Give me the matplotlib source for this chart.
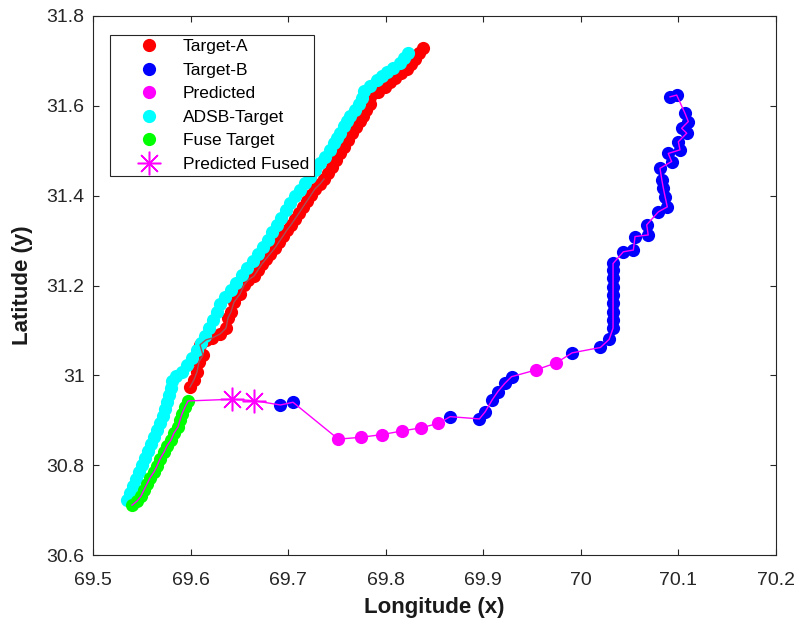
import matplotlib
matplotlib.use('Agg')
import matplotlib.pyplot as plt
from matplotlib.ticker import FuncFormatter

plt.rcParams['font.family'] = ['Liberation Sans', 'DejaVu Sans']

# Target-A track (red)
red_lon = [69.5994, 69.6035, 69.6066, 69.6086, 69.6127, 69.6097, 69.6158, 69.6220, 69.6302, 69.6363,
           69.6384, 69.6414, 69.6445, 69.6507, 69.6548, 69.6589, 69.6650, 69.6691, 69.6732, 69.6773,
           69.6814, 69.6865, 69.6906, 69.6947, 69.6988, 69.7029, 69.7070, 69.7111, 69.7152, 69.7193,
           69.7234, 69.7275, 69.7327, 69.7368, 69.7409, 69.7450, 69.7491, 69.7532, 69.7573, 69.7614,
           69.7655, 69.7696, 69.7737, 69.7767, 69.7798, 69.7839, 69.7839, 69.7921, 69.7993, 69.8044,
           69.8095, 69.8157, 69.8218, 69.8259, 69.8300, 69.8341, 69.8382]
red_lat = [30.974, 30.990, 31.0075, 31.030, 31.045, 31.068, 31.079, 31.083, 31.092, 31.105,
           31.128, 31.141, 31.163, 31.181, 31.201, 31.212, 31.221, 31.2345, 31.248, 31.259,
           31.270, 31.2835, 31.297, 31.310, 31.3236, 31.335, 31.348, 31.361, 31.375, 31.388,
           31.4015, 31.415, 31.426, 31.437, 31.4505, 31.464, 31.479, 31.495, 31.508, 31.524,
           31.5395, 31.553, 31.566, 31.577, 31.591, 31.604, 31.620, 31.631, 31.642, 31.653,
           31.662, 31.673, 31.682, 31.693, 31.704, 31.718, 31.729]

# ADSB track (cyan)
adsb_lon = [69.5348, 69.5379, 69.5410, 69.5441, 69.5471, 69.5502, 69.5533, 69.5564, 69.5594, 69.5625,
            69.5656, 69.5687, 69.5717, 69.5738, 69.5758, 69.5779, 69.5799, 69.5810, 69.5851, 69.5912,
            69.5963, 69.6015, 69.6066, 69.6107, 69.6148, 69.6189, 69.6230, 69.6271, 69.6302, 69.6353,
            69.6414, 69.6466, 69.6527, 69.6578, 69.6640, 69.6691, 69.6742, 69.6794, 69.6835, 69.6886,
            69.6927, 69.6978, 69.7019, 69.7070, 69.7122, 69.7173, 69.7224, 69.7275, 69.7327, 69.7378,
            69.7429, 69.7470, 69.7501, 69.7532, 69.7573, 69.7603, 69.7634, 69.7685, 69.7726, 69.7757,
            69.7778, 69.7839, 69.7911, 69.7962, 69.8013, 69.8075, 69.8147, 69.8188, 69.8229]
adsb_lat = [30.7225, 30.738, 30.754, 30.769, 30.785, 30.800, 30.816, 30.832, 30.847, 30.863,
            30.878, 30.894, 30.9095, 30.925, 30.941, 30.956, 30.972, 30.987, 30.9986, 31.0075,
            31.023, 31.039, 31.056, 31.072, 31.088, 31.105, 31.123, 31.141, 31.159, 31.174,
            31.190, 31.2056, 31.2234, 31.239, 31.2546, 31.270, 31.2857, 31.3013, 31.319, 31.3347,
            31.3503, 31.368, 31.3837, 31.399, 31.4126, 31.428, 31.4416, 31.457, 31.4727, 31.486,
            31.5017, 31.517, 31.528, 31.5395, 31.555, 31.566, 31.577, 31.591, 31.604, 31.617,
            31.633, 31.644, 31.6575, 31.666, 31.675, 31.684, 31.695, 31.7065, 31.718]

# fused track (green)
fuse_lon = [69.5400, 69.5451, 69.5492, 69.5523, 69.5553, 69.5584, 69.5625, 69.5656, 69.5687,
            69.5728, 69.5758, 69.5799, 69.5830, 69.5871, 69.5892, 69.5912, 69.5943, 69.5974]
fuse_lat = [30.711, 30.720, 30.731, 30.745, 30.758, 30.7715, 30.785, 30.798, 30.814,
            30.829, 30.843, 30.856, 30.8717, 30.885, 30.9006, 30.914, 30.9296, 30.943]

# Target-B track (blue)
b_lon = [69.692, 69.705, 69.866, 69.896, 69.902, 69.909, 69.915, 69.922, 69.929, 69.991,
         70.020, 70.029, 70.033, 70.033, 70.033, 70.033, 70.033, 70.033, 70.033, 70.033,
         70.033, 70.0435, 70.0538, 70.0555, 70.069, 70.0675, 70.0794, 70.0886, 70.0863, 70.0846,
         70.083, 70.0811, 70.093, 70.0896, 70.1016, 70.0999, 70.1085, 70.1033, 70.1101, 70.1068,
         70.0982, 70.0914]
b_lat = [30.934, 30.940, 30.908, 30.903, 30.919, 30.945, 30.964, 30.982, 30.997, 31.050,
         31.062, 31.080, 31.105, 31.123, 31.142, 31.160, 31.179, 31.197, 31.216, 31.235,
         31.249, 31.275, 31.279, 31.309, 31.3125, 31.335, 31.364, 31.375, 31.398, 31.416,
         31.435, 31.461, 31.476, 31.494, 31.502, 31.520, 31.539, 31.550, 31.565, 31.583,
         31.624, 31.620]

# predicted positions (gaps in Target-B)
pred_lon = [69.7514, 69.7744, 69.7959, 69.8164, 69.8359, 69.8539, 69.954, 69.975]
pred_lat = [30.858, 30.862, 30.868, 30.876, 30.883, 30.893, 31.012, 31.028]

# predicted fused positions
pf_lon = [69.6422, 69.6653]
pf_lat = [30.9467, 30.9436]

# full predicted path: fused track -> predicted fused -> Target-B with predicted gaps
path_lon = fuse_lon + pf_lon + b_lon[:2] + pred_lon[:6] + b_lon[2:9] + pred_lon[6:] + b_lon[9:]
path_lat = fuse_lat + pf_lat + b_lat[:2] + pred_lat[:6] + b_lat[2:9] + pred_lat[6:] + b_lat[9:]

fig = plt.figure(figsize=(7.99, 6.24), dpi=100)
ax = fig.add_axes([93 / 799, 1 - 555 / 624, 683 / 799, 539 / 624])

ms = 9.5
ax.plot(red_lon, red_lat, 'o', color='#ff0000', ms=ms, mew=0, zorder=2, label='Target-A')
ax.plot(adsb_lon, adsb_lat, 'o', color='#00ffff', ms=ms, mew=0, zorder=3, label='ADSB-Target')
ax.plot(b_lon, b_lat, 'o', color='#0000ff', ms=ms, mew=0, zorder=3, label='Target-B')
ax.plot(fuse_lon, fuse_lat, 'o', color='#00ff00', ms=ms, mew=0, zorder=3, label='Fuse Target')

# thin track line over the lower part of Target-A
low = [i for i, v in enumerate(red_lat) if v < 31.44]
ax.plot([red_lon[i] for i in low], [red_lat[i] for i in low], '-', color='#a85058', lw=1.0, zorder=4)

ax.plot(path_lon, path_lat, '-', color='#ff00ff', lw=1.0, zorder=5)
ax.plot(pred_lon, pred_lat, 'o', color='#ff00ff', ms=ms, mew=0, zorder=6, label='Predicted')
ax.plot(pf_lon, pf_lat, ls='none', marker=(8, 2, 0), color='#ff00ff', ms=17, mew=1.1,
        zorder=7, label='Predicted Fused')

ax.set_xlim(69.5, 70.2)
ax.set_ylim(30.6, 31.8)
ax.set_xticks([69.5, 69.6, 69.7, 69.8, 69.9, 70.0, 70.1, 70.2])
ax.set_yticks([30.6, 30.8, 31.0, 31.2, 31.4, 31.6, 31.8])
fmt = FuncFormatter(lambda v, _: '%g' % round(v, 4))
ax.xaxis.set_major_formatter(fmt)
ax.yaxis.set_major_formatter(fmt)

dark = '#262626'
for s in ax.spines.values():
    s.set_color(dark)
    s.set_linewidth(0.8)
ax.tick_params(direction='in', length=4.5, width=0.8, colors=dark, labelsize=14,
               top=True, right=True)
ax.tick_params(axis='x', pad=12)
ax.tick_params(axis='y', pad=6)

ax.set_xlabel('Longitude (x)', fontsize=16, fontweight='bold', color='#1a1a1a')
ax.set_ylabel('Latitude (y)', fontsize=16, fontweight='bold', color='#1a1a1a')
ax.xaxis.set_label_coords(0.5, -0.077)
ax.yaxis.set_label_coords(-0.088, 0.5)

handles, labels = ax.get_legend_handles_labels()
order = ['Target-A', 'Target-B', 'Predicted', 'ADSB-Target', 'Fuse Target', 'Predicted Fused']
hmap = dict(zip(labels, handles))
leg = ax.legend([hmap[k] for k in order], order, loc='upper left',
                bbox_to_anchor=(0.025, 0.965), borderaxespad=0, fontsize=12.5,
                fancybox=False, framealpha=1, edgecolor=dark, borderpad=0.25,
                labelspacing=0.48, handlelength=3.95, handletextpad=0.0)
leg.get_frame().set_linewidth(0.8)

fig.savefig('out.png', dpi=100)
